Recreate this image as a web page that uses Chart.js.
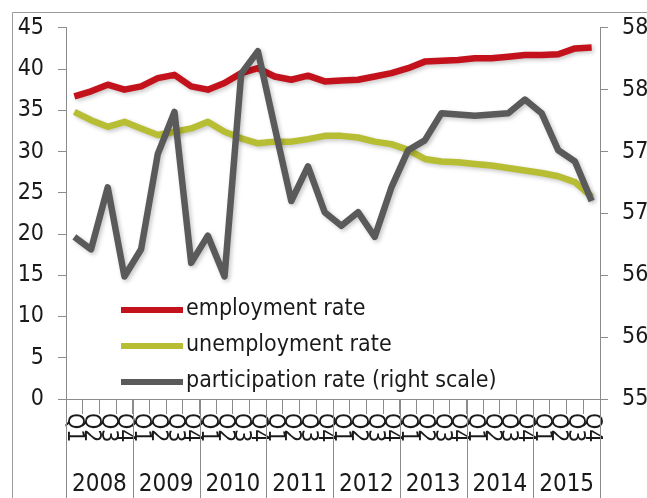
<!DOCTYPE html>
<html>
<head>
<meta charset="utf-8">
<script src="https://cdn.jsdelivr.net/npm/chart.js@4"></script>
<style>
  html, body { margin: 0; padding: 0; background: #fff; }
  #wrap { width: 647px; height: 498px; }
</style>
</head>
<body>
<div id="wrap"><canvas id="c" width="647" height="498"></canvas></div>
<script>
// ═══ DATA ═══
const years = ["2008", "2009", "2010", "2011", "2012", "2013", "2014", "2015"];
const quarterNames = ["Q1", "Q2", "Q3", "Q4"];
const quarters = [];
years.forEach(y => quarterNames.forEach(q => quarters.push(y + " " + q)));

const employmentRate = [
  36.7, 37.3, 38.1, 37.5, 37.9, 38.9, 39.3, 37.9,
  37.5, 38.3, 39.5, 40.1, 39.1, 38.7, 39.2, 38.5,
  38.6, 38.7, 39.1, 39.5, 40.1, 40.9, 41.0, 41.1,
  41.3, 41.3, 41.5, 41.7, 41.7, 41.8, 42.5, 42.6
];
const unemploymentRate = [
  34.8, 33.8, 33.0, 33.6, 32.8, 32.0, 32.4, 32.8,
  33.6, 32.4, 31.6, 31.0, 31.2, 31.2, 31.5, 31.9,
  31.9, 31.7, 31.2, 30.9, 30.2, 29.1, 28.8, 28.7,
  28.5, 28.3, 28.0, 27.7, 27.4, 27.0, 26.3, 24.5
];
const participationRate = [
  56.31, 56.21, 56.71, 55.99, 56.21, 56.98, 57.32, 56.10,
  56.32, 55.99, 57.63, 57.81, 57.20, 56.60, 56.88, 56.51,
  56.40, 56.51, 56.31, 56.71, 57.01, 57.09, 57.31, 57.30,
  57.29, 57.30, 57.31, 57.42, 57.31, 57.01, 56.92, 56.60
];

const leftTicks = { min: 0, max: 45, step: 5 };
const rightTicks = { min: 55, max: 58, step: 0.5 };

const FONT = "'DejaVu Sans Condensed', 'DejaVu Sans', sans-serif";
const AXIS = "#8c8c8c";
const TEXT = "#1a1a1a";
const COLORS = { emp: "#c3121b", unemp: "#b8be33", part: "#5a5a5a" };

const legendItems = [
  { label: "employment rate", color: COLORS.emp },
  { label: "unemployment rate", color: COLORS.unemp },
  { label: "participation rate (right scale)", color: COLORS.part }
];

// ═══ PLUGINS ═══
const framePlugin = {
  id: "frame",
  beforeDraw(chart) {
    const ctx = chart.ctx;
    ctx.save();
    ctx.fillStyle = "#fff";
    ctx.fillRect(0, 0, chart.width, chart.height);
    ctx.strokeStyle = "#9a9a9a";
    ctx.lineWidth = 1;
    ctx.beginPath();
    ctx.moveTo(12.5, chart.height);
    ctx.lineTo(12.5, 12.5);
    ctx.lineTo(chart.width, 12.5);
    ctx.stroke();
    ctx.restore();
  }
};

const shadowPlugin = {
  id: "lineShadow",
  beforeDatasetDraw(chart) {
    const ctx = chart.ctx;
    ctx.save();
    ctx.shadowColor = "rgba(0,0,0,0.22)";
    ctx.shadowBlur = 4;
    ctx.shadowOffsetX = 2;
    ctx.shadowOffsetY = 2;
  },
  afterDatasetDraw(chart) {
    chart.ctx.restore();
  }
};

// quarter labels (rotated clockwise), year labels and year separators
const xLabelsPlugin = {
  id: "xLabels",
  afterDraw(chart) {
    const ctx = chart.ctx;
    const x = chart.scales.x;
    const { left, right, bottom } = chart.chartArea;
    ctx.save();
    ctx.fillStyle = TEXT;
    ctx.font = "23px " + FONT;
    ctx.textAlign = "left";
    ctx.textBaseline = "middle";
    quarters.forEach((q, i) => {
      const px = x.getPixelForValue(i);
      ctx.save();
      ctx.translate(px, bottom + 14);
      ctx.rotate(Math.PI / 2);
      ctx.fillText(quarterNames[i % 4], 0, 0);
      ctx.restore();
    });

    ctx.strokeStyle = AXIS;
    ctx.lineWidth = 1;
    ctx.textAlign = "center";
    ctx.font = "24px " + FONT;
    years.forEach((y, k) => {
      const a = k === 0 ? left : (x.getPixelForValue(4 * k - 1) + x.getPixelForValue(4 * k)) / 2;
      const b = k === years.length - 1 ? right : (x.getPixelForValue(4 * k + 3) + x.getPixelForValue(4 * k + 4)) / 2;
      ctx.beginPath();
      ctx.moveTo(Math.round(a) + 0.5, bottom);
      ctx.lineTo(Math.round(a) + 0.5, chart.height);
      ctx.stroke();
      ctx.fillText(y, (a + b) / 2, 485);
    });
    ctx.beginPath();
    ctx.moveTo(Math.round(right) + 0.5, bottom);
    ctx.lineTo(Math.round(right) + 0.5, chart.height);
    ctx.stroke();
    ctx.restore();
  }
};

const legendPlugin = {
  id: "insideLegend",
  afterDraw(chart) {
    const ctx = chart.ctx;
    const rows = [310, 346, 382];
    ctx.save();
    ctx.font = "23px " + FONT;
    ctx.textAlign = "left";
    ctx.textBaseline = "middle";
    legendItems.forEach((item, i) => {
      ctx.strokeStyle = item.color;
      ctx.lineWidth = 6;
      ctx.beginPath();
      ctx.moveTo(121, rows[i]);
      ctx.lineTo(183, rows[i]);
      ctx.stroke();
      ctx.fillStyle = TEXT;
      ctx.fillText(item.label, 186, rows[i] - 1);
    });
    ctx.restore();
  }
};

// ═══ CHART ═══
function lineSet(label, data, color, axis, order) {
  return {
    label, data, yAxisID: axis, order,
    borderColor: color,
    backgroundColor: color,
    borderWidth: 6.5,
    borderJoinStyle: "round",
    pointRadius: 0,
    tension: 0,
    fill: false
  };
}

new Chart(document.getElementById("c"), {
  type: "line",
  data: {
    labels: quarters,
    datasets: [
      lineSet("employment rate", employmentRate, COLORS.emp, "y", 2),
      lineSet("unemployment rate", unemploymentRate, COLORS.unemp, "y", 1),
      lineSet("participation rate (right scale)", participationRate, COLORS.part, "y1", 0)
    ]
  },
  options: {
    responsive: false,
    animation: false,
    layout: { padding: 0 },
    plugins: { legend: { display: false }, tooltip: { enabled: false } },
    scales: {
      x: {
        type: "category",
        offset: true,
        grid: { offset: true, drawOnChartArea: false, color: AXIS, tickLength: 15 },
        border: { color: AXIS },
        ticks: { display: false },
        afterFit(s) { s.height = 99; }
      },
      y: {
        position: "left",
        min: leftTicks.min, max: leftTicks.max,
        grid: { drawOnChartArea: false, color: AXIS, tickLength: 8 },
        border: { color: AXIS },
        ticks: { stepSize: leftTicks.step, padding: 14, color: TEXT, font: { size: 23, family: FONT } },
        afterFit(s) { s.width = 66; }
      },
      y1: {
        position: "right",
        min: rightTicks.min, max: rightTicks.max,
        grid: { drawOnChartArea: false, color: AXIS, tickLength: 8 },
        border: { color: AXIS },
        ticks: {
          stepSize: rightTicks.step, padding: 14, color: TEXT,
          font: { size: 23, family: FONT },
          callback: v => Math.round(v)
        },
        afterFit(s) { s.width = 47; }
      }
    }
  },
  plugins: [framePlugin, shadowPlugin, xLabelsPlugin, legendPlugin]
});
</script>
</body>
</html>
